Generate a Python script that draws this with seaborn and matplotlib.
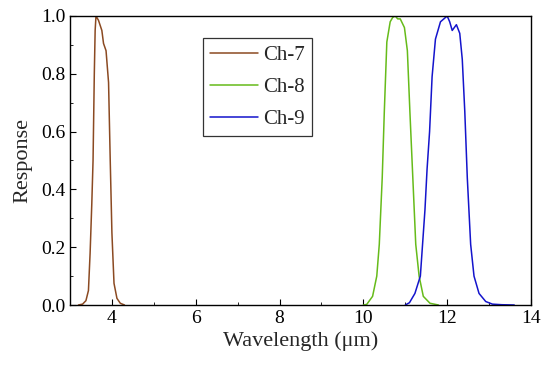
import pandas as pd
import matplotlib.pyplot as plt
import seaborn as sns
from matplotlib.ticker import MultipleLocator

# Ch-7 response
wl7 = [3.20, 3.30, 3.38, 3.44, 3.48, 3.52, 3.55, 3.58, 3.60, 3.62, 3.68, 3.76, 3.80, 3.86,
       3.92, 3.96, 4.00, 4.05, 4.12, 4.20, 4.30]
resp7 = [0.0, 0.003, 0.015, 0.05, 0.18, 0.35, 0.50, 0.80, 0.95, 1.00, 0.985, 0.95, 0.905, 0.88,
         0.77, 0.50, 0.25, 0.075, 0.023, 0.006, 0.0]

# Ch-8 response
wl8 = [10.00, 10.08, 10.22, 10.32, 10.38, 10.45, 10.50, 10.56, 10.64, 10.70, 10.76, 10.82, 10.88,
       10.98, 11.05, 11.11, 11.18, 11.25, 11.33, 11.43, 11.59, 11.79]
resp8 = [0.0, 0.002, 0.03, 0.10, 0.21, 0.44, 0.67, 0.91, 0.98, 0.995, 1.00, 0.99, 0.99,
         0.96, 0.88, 0.67, 0.44, 0.21, 0.10, 0.03, 0.006, 0.0]

# Ch-9 response
wl9 = [11.00, 11.10, 11.23, 11.36, 11.47, 11.52, 11.58, 11.64, 11.72, 11.84, 11.92, 12.00,
       12.06, 12.12, 12.17, 12.22, 12.30, 12.36, 12.42, 12.48, 12.56, 12.64, 12.76, 12.92,
       13.08, 13.30, 13.60]
resp9 = [0.0, 0.008, 0.04, 0.10, 0.33, 0.47, 0.60, 0.79, 0.92, 0.98, 0.99, 1.00,
         0.98, 0.95, 0.96, 0.97, 0.94, 0.85, 0.67, 0.44, 0.21, 0.10, 0.04, 0.012,
         0.003, 0.001, 0.0]

channels = ["Ch-7", "Ch-8", "Ch-9"]
colors = ["#8B4A22", "#66BB1A", "#1414CC"]

frames = []
for name, wl, resp in zip(channels, [wl7, wl8, wl9], [resp7, resp8, resp9]):
    frames.append(pd.DataFrame({"Wavelength": wl, "Response": resp, "Channel": name}))
df = pd.concat(frames, ignore_index=True)

sns.set_style("ticks")
plt.rcParams['font.family'] = ['Liberation Serif', 'DejaVu Serif']

fig = plt.figure(figsize=(5.5, 3.7), dpi=100)
ax = fig.add_axes([70 / 550, 1 - 305 / 370, (531 - 70) / 550, (305 - 16) / 370])

sns.lineplot(data=df, x="Wavelength", y="Response", hue="Channel",
             palette=dict(zip(channels, colors)), estimator=None, sort=False,
             linewidth=1.1, ax=ax)

ax.set_xlim(3, 14)
ax.set_ylim(0, 1.0)
ax.xaxis.set_major_locator(MultipleLocator(2))
ax.xaxis.set_minor_locator(MultipleLocator(1))
ax.yaxis.set_major_locator(MultipleLocator(0.2))
ax.yaxis.set_minor_locator(MultipleLocator(0.1))
ax.yaxis.set_major_formatter(plt.FormatStrFormatter('%.1f'))
ax.tick_params(which='both', direction='in', labelsize=14, colors='black')
ax.tick_params(which='major', length=4)
ax.tick_params(which='minor', length=2.5)
for sp in ax.spines.values():
    sp.set_color('black')
    sp.set_linewidth(1.0)

ax.set_xlabel("Wavelength (μm)", fontsize=16, labelpad=3)
ax.set_ylabel("Response", fontsize=16, labelpad=6)

leg = ax.legend(loc='upper left', bbox_to_anchor=(0.288, 0.924), borderaxespad=0,
                fontsize=15, handlelength=2.3, labelspacing=0.6, handletextpad=0.25,
                borderpad=0.35, frameon=True, fancybox=False, title=None)
leg.get_frame().set_edgecolor('black')
leg.get_frame().set_linewidth(0.9)

fig.savefig("out.png", dpi=100)
